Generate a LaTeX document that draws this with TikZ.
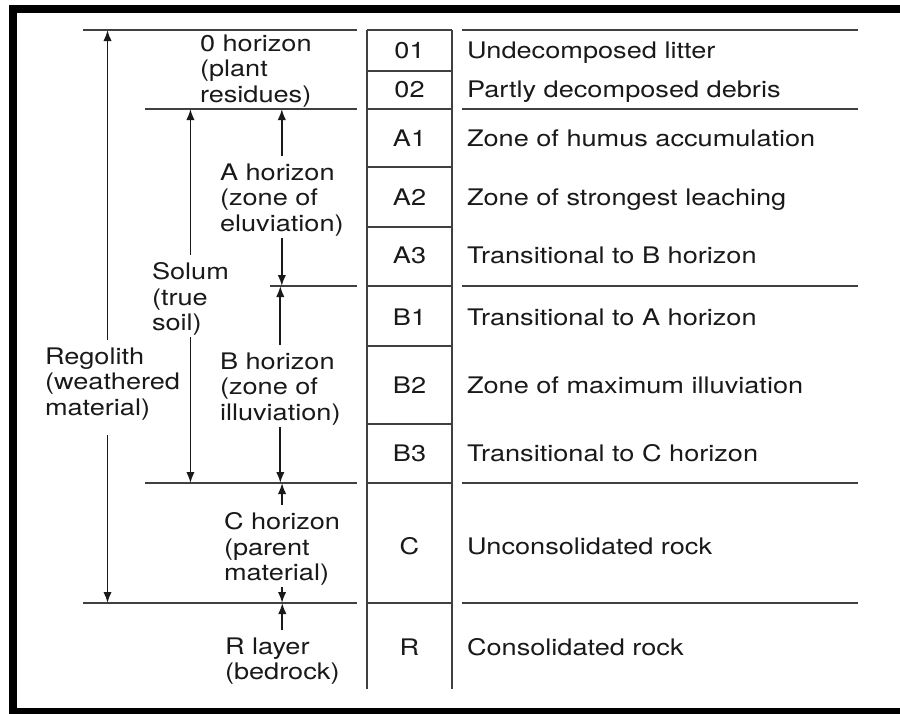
\documentclass[tikz,border=0pt]{standalone}
\usepackage{fontspec}
\setmainfont{TeX Gyre Heros}[FakeStretch=1.19]
\usetikzlibrary{arrows.meta}

\definecolor{inkline}{gray}{0.25}
\definecolor{inktext}{gray}{0.1}

\begin{document}
\begin{tikzpicture}[x=0.5pt, y=-0.5pt, %%% one unit = one pixel of the page, y runs down
    soil line/.style={draw=inkline, line width=1.1pt},
    lbl/.style={inner sep=0pt, outer sep=0pt, align=left, text=inktext, font=\fontsize{11.4}{12.75}\selectfont},
    cell/.style={lbl},
    uparr/.style={draw=inktext, line width=0.9pt, -{Latex[length=5.5pt, width=4.2pt]}, shorten <=4pt},
    downarr/.style={draw=inktext, line width=0.9pt, -{Latex[length=5.5pt, width=4.2pt]}, shorten <=1pt}]
  \useasboundingbox (0,0) rectangle (900,713);
  \clip (0,0) rectangle (900,713);
  \fill[white] (0,0) rectangle (900,713);
  \draw[black, line width=4pt] (13,9) rectangle (906,712); %%% frame, right side cut off

  %%% horizon boundaries
  \coordinate (topO) at (0,30);
  \coordinate (topA) at (0,109);
  \coordinate (topB) at (0,286);
  \coordinate (topC) at (0,483);
  \coordinate (topR) at (0,603);

  %%% column of layer codes
  \draw[soil line] (367,30) -- (367,689) (452,30) -- (452,689);
  \foreach \y in {30,71,109,167,227,286,346,424,483,603}
    \draw[soil line] (367,\y) -- (452,\y);
  \foreach \y in {30,109,286,483,603}
    \draw[soil line] (462,\y) -- (858,\y);
  \foreach \xa/\y in {83/30, 145/109, 270/286, 145/483, 83/603}
    \draw[soil line] (\xa,\y) -- (357,\y);

  \foreach \code/\desc/\y in {01/Undecomposed litter/50, 02/Partly decomposed debris/89,
      A1/Zone of humus accumulation/138, A2/Zone of strongest leaching/197,
      A3/Transitional to B horizon/255, B1/Transitional to A horizon/317,
      B2/Zone of maximum illuviation/385, B3/Transitional to C horizon/453,
      C/Unconsolidated rock/546, R/Consolidated rock/647}
  {
    \node[cell, anchor=base] (c\code) at (409.5,\y+8) {\code};
    \node[cell, anchor=base west] (d\code) at (467,\y+8) {\desc};
  }

  %%% horizon names
  \node[lbl, anchor=west] (Ohz) at (200,71) {0 horizon\\(plant\\residues)};
  \node[lbl, anchor=west] (Ahz) at (220,200) {A horizon\\(zone of\\eluviation)};
  \node[lbl, anchor=west] (Bhz) at (220,389) {B horizon\\(zone of\\illuviation)};
  \node[lbl, anchor=west] (Chz) at (224,549) {C horizon\\(parent\\material)};
  \node[lbl, anchor=west] (Rly) at (225,661) {R layer\\(bedrock)};
  \node[lbl, anchor=west] (solum) at (152,299) {Solum\\(true\\soil)};
  \node[lbl, anchor=west] (regolith) at (45,384) {Regolith\\(weathered\\material)};
  \coordinate (regx) at ([xshift=-2.5pt]regolith.center);

  %%% extent arrows
  \draw[uparr] (Ahz.north) -- (Ahz.north |- topA);
  \draw[downarr] (Ahz.south) -- (Ahz.south |- topB);
  \draw[uparr] (Bhz.north) -- (Bhz.north |- topB);
  \draw[downarr] (Bhz.south) -- (Bhz.south |- topC);
  \draw[uparr] (Chz.north) -- (Chz.north |- topC);
  \draw[downarr] (Chz.south) -- (Chz.south |- topR);
  \draw[uparr] (Rly.north) -- (Rly.north |- topR);
  \draw[uparr] (solum.north) -- (solum.north |- topA);
  \draw[downarr] (solum.south) -- (solum.south |- topC);
  \draw[uparr] (regx |- regolith.north) -- (regx |- topO);
  \draw[downarr, shorten <=7.5pt] (regx |- regolith.south) -- (regx |- topR);
\end{tikzpicture}
\end{document}
